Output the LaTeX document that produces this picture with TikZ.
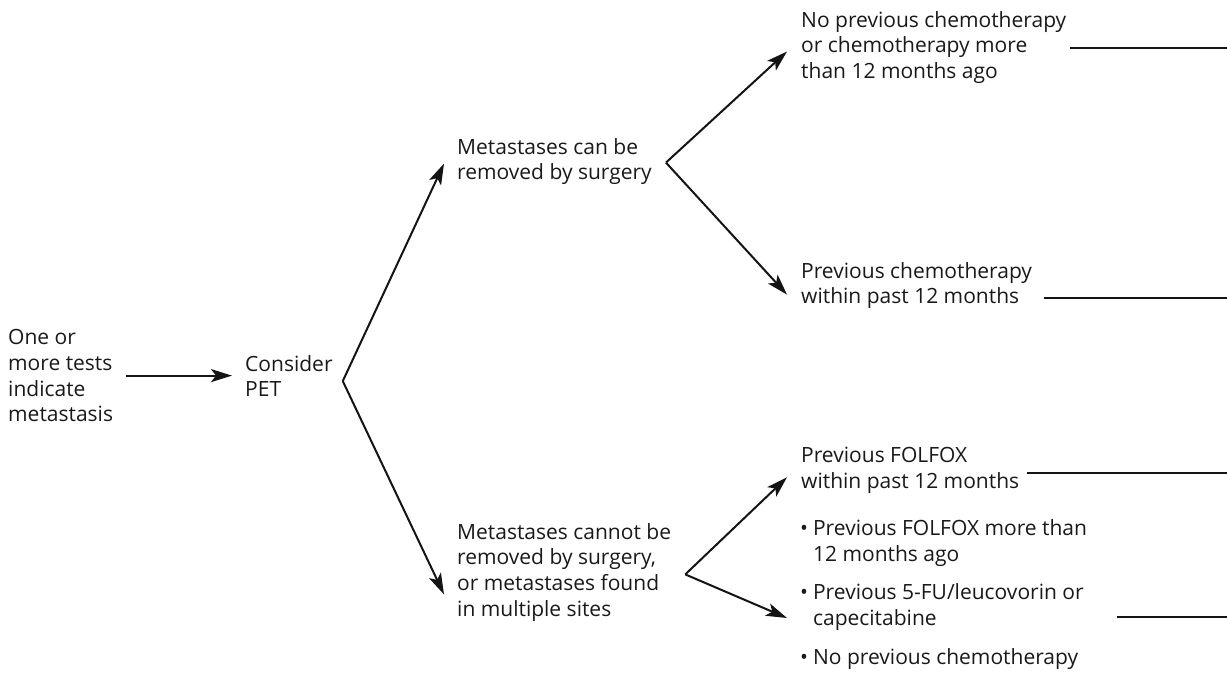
\documentclass[tikz,border=0pt]{standalone}
\usepackage{fontspec}
\setmainfont{Open Sans}
\usetikzlibrary{arrows.meta}
\begin{document}
\begin{tikzpicture}[x=1pt,y=-1pt,
  txt/.style={anchor=north west,inner sep=0pt,align=left,
    font=\fontsize{21}{25.8}\selectfont,text=black!90},
  link/.style={line width=2pt,draw=black!92},
  arr/.style={link,-{Stealth[length=21pt,width=13pt,inset=5pt]}},
  lead/.style={line width=2pt,draw=black!92}]
\useasboundingbox (0,0) rectangle (1227,685);
\coordinate (rim) at (1227,0);

% text blocks
\node[txt] (tests) at (8,329) {One or\\more tests\\indicate\\metastasis};
\node[txt] (pet) at (245,355) {Consider\\PET};
\node[txt] (can) at (457,138) {Metastases can be\\removed by surgery};
\node[txt] (cannot) at (457,523) {Metastases cannot be\\removed by surgery,\\or metastases found\\in multiple sites};
\node[txt] (nochemo) at (801,11) {No previous chemotherapy\\or chemotherapy more\\than 12 months ago};
\node[txt] (prevchemo) at (801,262) {Previous chemotherapy\\within past 12 months};
\node[txt] (folfox) at (801,447) {Previous FOLFOX\\within past 12 months};
\node[txt] (others) at (800,517) {\begin{tabular}{@{}l@{\hspace{5pt}}l@{}}
  • & Previous FOLFOX more than\\
    & 12 months ago\\[13pt]
  • & Previous 5-FU/leucovorin or\\
    & capecitabine\\[13pt]
  • & No previous chemotherapy
  \end{tabular}};

% branch points
\coordinate (v1) at ([shift={(10,5)}]pet.east);
\coordinate (v2) at ([shift={(14,1)}]can.east);
\coordinate (v3) at ([shift={(14,2)}]cannot.east);

% arrows
\draw[arr] ([xshift=13pt]tests.east) -- ([xshift=-13pt]tests.east -| pet.west);
\draw[arr] (v1) -- ([shift={(-13,2)}]can.west);
\draw[arr] (v1) -- ([shift={(-13,22)}]cannot.west);
\draw[arr] (v2) -- ([shift={(-14,4)}]nochemo.west);
\draw[arr] (v2) -- ([shift={(-14,9)}]prevchemo.west);
\draw[arr] (v3) -- ([shift={(-14,7)}]folfox.west);
\draw[arr] (v3) -- ([shift={(-13,101)}]others.north west);

% lead lines to the right edge
\draw[lead] ([shift={(4,1)}]nochemo.east) coordinate (s1) -- (s1 -| rim);
\draw[lead] ([shift={(12,12)}]prevchemo.east) coordinate (s2) -- (s2 -| rim);
\draw[lead] ([shift={(8,3)}]folfox.east) coordinate (s3) -- (s3 -| rim);
\draw[lead] ([shift={(30,100)}]others.north east) coordinate (s4) -- (s4 -| rim);
\end{tikzpicture}
\end{document}
